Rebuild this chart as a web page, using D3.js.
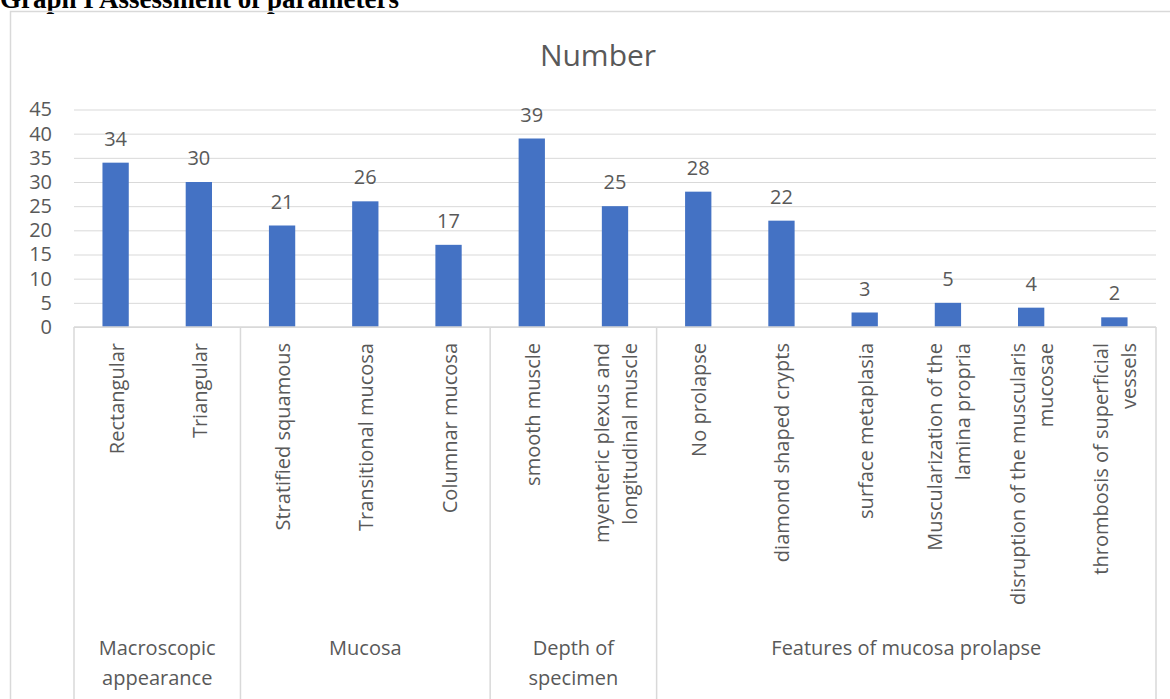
<!DOCTYPE html>
<html>
<head>
<meta charset="utf-8">
<script src="https://cdn.jsdelivr.net/npm/d3@7"></script>
<style>
  body { margin: 0; background: #fff; }
  text { font-family: "Open Sans", sans-serif; fill: #595959; }
</style>
</head>
<body>
<div id="chart"></div>
<script>
// values
const categories = [
  "Rectangular", "Triangular",
  "Stratified squamous", "Transitional mucosa", "Columnar mucosa",
  "smooth muscle", "myenteric plexus and\nlongitudinal muscle",
  "No prolapse", "diamond shaped crypts", "surface metaplasia",
  "Muscularization of the\nlamina propria", "disruption of the muscularis\nmucosae",
  "thrombosis of superficial\nvessels"
];
const values = [34, 30, 21, 26, 17, 39, 25, 28, 22, 3, 5, 4, 2];
const groups = ["Macroscopic\nappearance", "Mucosa", "Depth of\nspecimen", "Features of mucosa prolapse"];
const groupSizes = [2, 3, 2, 6];
const yTicks = [0, 5, 10, 15, 20, 25, 30, 35, 40, 45];

const W = 1170, H = 699;
const plot = { left: 74, right: 1156, top: 109.5, bottom: 327 };
const grid = "#d9d9d9";

const svg = d3.select("#chart").append("svg").attr("width", W).attr("height", H);

// caption above the chart box (cut off at the top in the original)
svg.append("text")
  .attr("x", 0).attr("y", 8)
  .style("font-family", "'Liberation Serif', 'Times New Roman', serif")
  .style("font-weight", "bold").style("font-size", "27px").style("fill", "#000")
  .text("Graph I Assessment of parameters");

// chart area border
svg.append("path")
  .attr("d", `M10.5,${H} V11.5 H${W}`)
  .attr("fill", "none").attr("stroke", grid).attr("stroke-width", 1.5);

svg.append("text")
  .attr("x", 598).attr("y", 66)
  .attr("text-anchor", "middle")
  .style("font-size", "30px")
  .text("Number");

const x = d3.scaleBand().domain(categories).range([plot.left, plot.right]).padding(0);
const y = d3.scaleLinear().domain([0, 45]).range([plot.bottom, plot.top]);

// gridlines + y labels
const yAxis = svg.append("g")
  .attr("transform", `translate(${plot.left},0)`)
  .call(d3.axisLeft(y).tickValues(yTicks).tickSize(-(plot.right - plot.left)).tickPadding(22));
yAxis.select(".domain").remove();
yAxis.selectAll(".tick line").attr("stroke", grid).attr("stroke-width", 1);
yAxis.selectAll(".tick text").style("font-size", "20px").style("fill", "#595959");

// bars
const barW = x.bandwidth() * 0.316;
svg.selectAll("rect.bar")
  .data(values)
  .join("rect")
  .attr("class", "bar")
  .attr("x", (d, i) => x(categories[i]) + x.bandwidth() / 2 - barW / 2)
  .attr("y", d => y(d))
  .attr("width", barW)
  .attr("height", d => y(0) - y(d))
  .attr("fill", "#4472C4");

// data labels
svg.selectAll("text.val")
  .data(values)
  .join("text")
  .attr("class", "val")
  .attr("x", (d, i) => x(categories[i]) + x.bandwidth() / 2)
  .attr("y", d => y(d) - 17)
  .attr("text-anchor", "middle")
  .style("font-size", "20px")
  .text(d => d);

// category axis line
svg.append("line")
  .attr("x1", plot.left).attr("x2", plot.right)
  .attr("y1", plot.bottom).attr("y2", plot.bottom)
  .attr("stroke", grid).attr("stroke-width", 1.5);

// rotated leaf labels
const leaf = svg.selectAll("g.leaf")
  .data(categories)
  .join("g")
  .attr("class", "leaf")
  .attr("transform", d => `translate(${x(d) + x.bandwidth() / 2},343) rotate(-90)`);
leaf.each(function (d) {
  const lines = d.split("\n");
  const t = d3.select(this).append("text")
    .attr("text-anchor", "end")
    .style("font-size", "20px");
  lines.forEach((ln, j) => {
    t.append("tspan")
      .attr("x", 0)
      .attr("y", 8 + (j - (lines.length - 1) / 2) * 28)
      .text(ln);
  });
});

// group separators and labels
let start = 0;
const bounds = [];
groupSizes.forEach(n => { bounds.push([start, start + n]); start += n; });

const edges = [plot.left].concat(bounds.map(b => b[1] < categories.length ? x(categories[b[1]]) : plot.right));
svg.selectAll("line.sep")
  .data(edges)
  .join("line")
  .attr("class", "sep")
  .attr("x1", d => d).attr("x2", d => d)
  .attr("y1", plot.bottom).attr("y2", H)
  .attr("stroke", grid).attr("stroke-width", 1.5);

svg.selectAll("text.grp")
  .data(groups)
  .join("text")
  .attr("class", "grp")
  .attr("text-anchor", "middle")
  .style("font-size", "20px")
  .each(function (d, i) {
    const cx = (edges[i] + edges[i + 1]) / 2;
    d.split("\n").forEach((ln, j) => {
      d3.select(this).append("tspan")
        .attr("x", cx)
        .attr("y", 655 + j * 30)
        .text(ln);
    });
  });
</script>
</body>
</html>
